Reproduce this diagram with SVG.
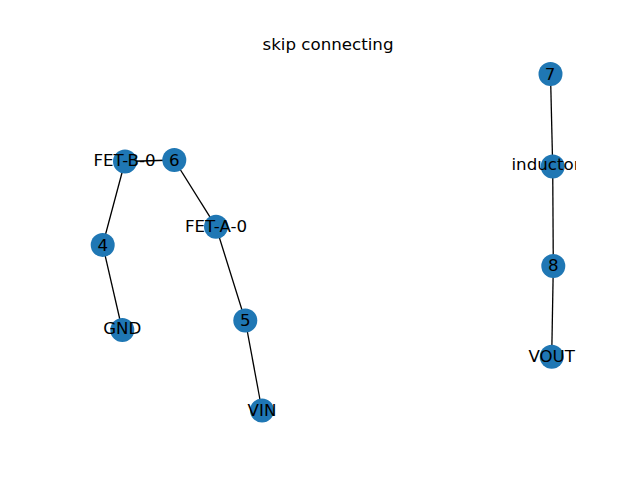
<svg xmlns="http://www.w3.org/2000/svg" width="640" height="480" viewBox="0 0 640 480">
<style>
.e{stroke:#000;stroke-width:1.3;fill:none}
.n circle{fill:#1f77b4}
.n text{font-family:"DejaVu Sans",sans-serif;font-size:16.67px;fill:#000;text-anchor:middle;dominant-baseline:central}
.t{font-family:"DejaVu Sans",sans-serif;font-size:16.67px;fill:#000;text-anchor:middle}
</style>
<defs><clipPath id="ax"><rect x="80" y="57.6" width="496" height="369.6"/></clipPath></defs>
<rect width="640" height="480" fill="#fff"/>
<text class="t" x="328" y="50">skip connecting</text>
<g id="edges">
<line class="e" x1="125" y1="161.5" x2="174.3" y2="160"/>
<line class="e" x1="125" y1="161.5" x2="102.7" y2="245"/>
<line class="e" x1="102.7" y1="245" x2="122.3" y2="330"/>
<line class="e" x1="174.3" y1="160" x2="216" y2="226.7"/>
<line class="e" x1="216" y1="226.7" x2="245.3" y2="320.5"/>
<line class="e" x1="245.3" y1="320.5" x2="262" y2="410.5"/>
<line class="e" x1="550.5" y1="74" x2="552.7" y2="166.5"/>
<line class="e" x1="552.7" y1="166.5" x2="553.3" y2="266"/>
<line class="e" x1="553.3" y1="266" x2="551.7" y2="356.7"/>
</g>
<g clip-path="url(#ax)">
<g id="n-FET-B-0" class="n"><circle cx="125" cy="161.5" r="12"/><text x="124.5" y="160">FET-B-0</text></g>
<g id="n-6" class="n"><circle cx="174.3" cy="160" r="12"/><text x="174.3" y="160">6</text></g>
<g id="n-FET-A-0" class="n"><circle cx="216" cy="226.7" r="12"/><text x="216" y="226.7">FET-A-0</text></g>
<g id="n-4" class="n"><circle cx="102.7" cy="245" r="12"/><text x="102.7" y="245">4</text></g>
<g id="n-GND" class="n"><circle cx="122.3" cy="330" r="12"/><text x="122.3" y="328.5">GND</text></g>
<g id="n-5" class="n"><circle cx="245.3" cy="320.5" r="12"/><text x="245.3" y="320">5</text></g>
<g id="n-VIN" class="n"><circle cx="262" cy="410.5" r="12"/><text x="262" y="410">VIN</text></g>
<g id="n-7" class="n"><circle cx="550.5" cy="74" r="12"/><text x="550" y="74">7</text></g>
<g id="n-inductor" class="n"><circle cx="552.7" cy="166.5" r="12"/><text x="546" y="164.5">inductor</text></g>
<g id="n-8" class="n"><circle cx="553.3" cy="266" r="12"/><text x="553.3" y="265.5">8</text></g>
<g id="n-VOUT" class="n"><circle cx="551.7" cy="356.7" r="12"/><text x="551.7" y="356">VOUT</text></g>
</g>
</svg>
